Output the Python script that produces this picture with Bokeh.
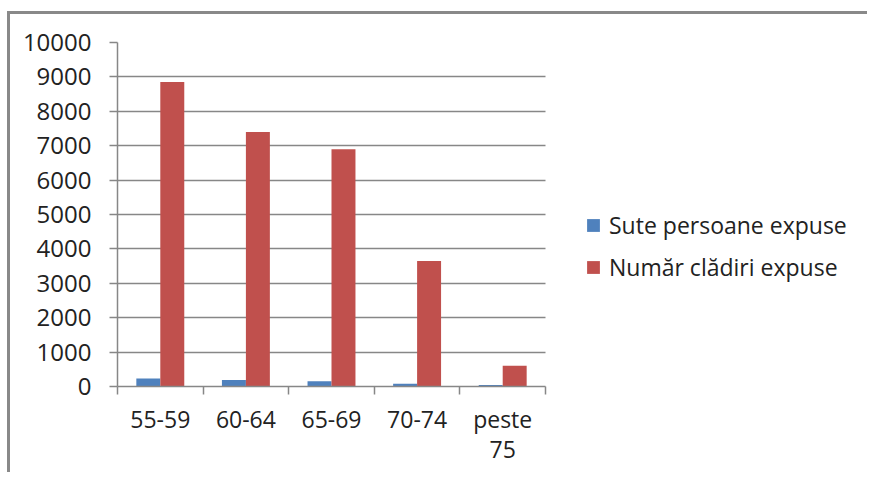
from bokeh.plotting import figure
from bokeh.models import Range1d, FixedTicker, Legend, LegendItem, ColumnDataSource, Grid
from bokeh.embed import file_html
from bokeh.resources import INLINE

categories = ["55-59", "60-64", "65-69", "70-74", "peste\n75"]
sute_persoane = [230, 190, 150, 80, 45]
numar_cladiri = [8850, 7400, 6900, 3650, 600]
y_ticks = list(range(0, 10001, 1000))
series_names = ["Sute persoane expuse", "Număr clădiri expuse"]

FONT = "Open Sans"
TXT = "#222222"
GRID = "#878787"
BLUE = "#4F81BD"
RED = "#C0504D"

n = len(categories)
centers = [i + 0.5 for i in range(n)]
bw = 0.28

# layout: plotting area 428px wide inside a frame that also hosts the legend
PLOT_W = 428
FRAME_W = 750
FRAME_H = 344

src = ColumnDataSource(dict(
    xb=[c - bw / 2 for c in centers],
    xr=[c + bw / 2 for c in centers],
    blue=sute_persoane,
    red=numar_cladiri,
))

p = figure(frame_width=FRAME_W, frame_height=FRAME_H,
           x_range=Range1d(0, n * FRAME_W / PLOT_W), y_range=Range1d(0, 10000),
           output_backend="svg", toolbar_location=None,
           min_border_left=117, min_border_right=0, min_border_top=42, min_border_bottom=86)
p.styles = {
    "background": ("linear-gradient(#898989, #898989) 7px 11px / 3px 100% no-repeat, "
                   "linear-gradient(#898989, #898989) 7px 11px / 100% 3px no-repeat, #ffffff"),
}
p.outline_line_color = None
p.background_fill_color = "white"
p.border_fill_alpha = 0

# horizontal grid lines, limited to the plotting area
if "cross_bounds" in Grid.properties():
    p.ygrid.cross_bounds = (0, n)
    p.ygrid.grid_line_color = GRID
    p.ygrid.grid_line_width = 1.5
else:
    p.ygrid.visible = False
    p.segment(x0=0, x1=n, y0=y_ticks, y1=y_ticks, line_color=GRID, line_width=1.5)
p.xgrid.visible = False

rb = p.vbar(x="xb", top="blue", bottom=0, width=bw, fill_color=BLUE, line_color=None, source=src)
rr = p.vbar(x="xr", top="red", bottom=0, width=bw, fill_color=RED, line_color=None, source=src)

# y axis
ya = p.yaxis[0]
ya.ticker = FixedTicker(ticks=y_ticks)
ya.axis_line_color = GRID
ya.axis_line_width = 1.5
ya.major_tick_line_color = GRID
ya.major_tick_line_width = 1.5
ya.major_tick_out = 8
ya.major_tick_in = 0
ya.minor_tick_out = 0
ya.minor_tick_in = 0
ya.major_label_text_font = FONT
ya.major_label_text_font_size = "24px"
ya.major_label_text_color = TXT
ya.major_label_standoff = 18

# x axis (labels centred in each category, ticks on category boundaries)
xa = p.xaxis[0]
xa.bounds = (0, n)
xa.ticker = FixedTicker(ticks=centers, minor_ticks=list(range(n + 1)))
xa.major_label_overrides = {c: lab for c, lab in zip(centers, categories)}
xa.axis_line_color = GRID
xa.axis_line_width = 1.5
xa.major_tick_out = 0
xa.major_tick_in = 0
xa.minor_tick_out = 8
xa.minor_tick_in = 0
xa.minor_tick_line_color = GRID
xa.minor_tick_line_width = 1.5
xa.major_label_text_font = FONT
xa.major_label_text_font_size = "23px"
xa.major_label_text_color = TXT
xa.major_label_text_line_height = 0.95
xa.major_label_standoff = 8

legend = Legend(items=[LegendItem(label=series_names[0], renderers=[rb]),
                       LegendItem(label=series_names[1], renderers=[rr])],
                location=(468, 103), padding=0, margin=0, spacing=10,
                border_line_color=None, background_fill_alpha=0,
                glyph_width=16, glyph_height=16, label_standoff=8, label_height=20,
                label_text_font=FONT, label_text_font_size="23px", label_text_color=TXT)
p.add_layout(legend, "center")

open("out.html", "w").write(file_html(p, INLINE))
